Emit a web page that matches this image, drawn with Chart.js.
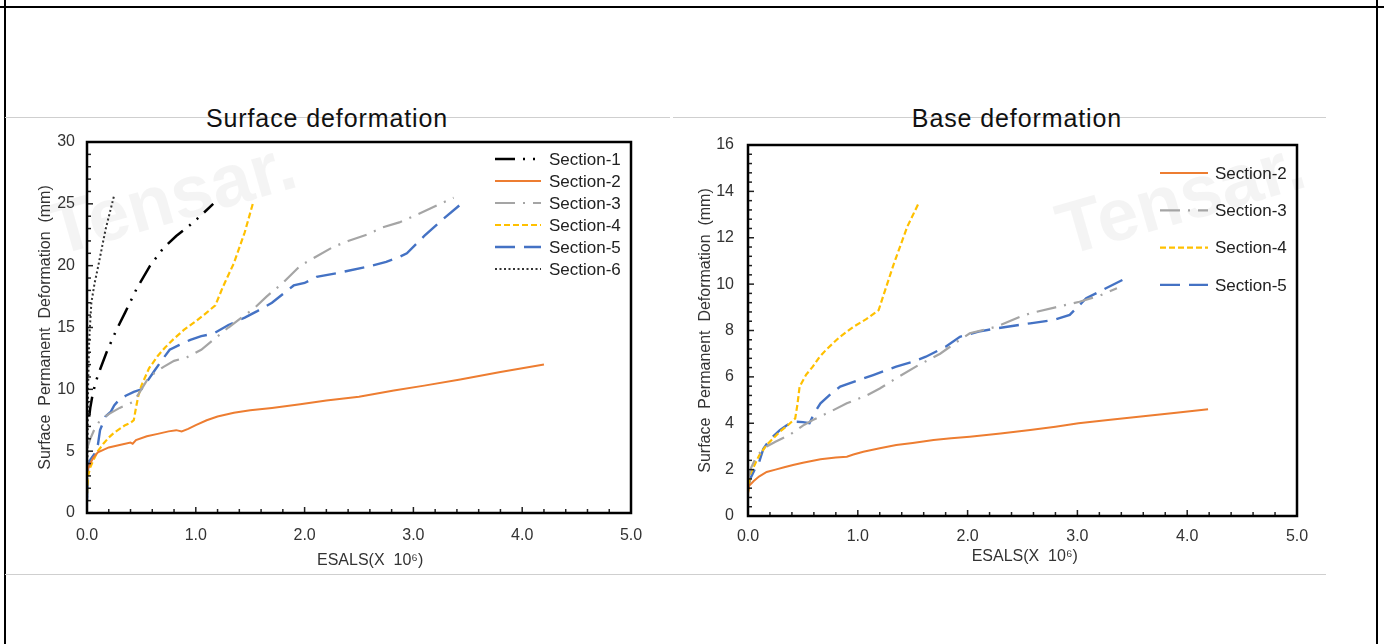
<!DOCTYPE html>
<html><head><meta charset="utf-8">
<script src="https://cdn.jsdelivr.net/npm/chart.js@4.4.1/dist/chart.umd.min.js"></script>
<style>
html,body{margin:0;padding:0;background:#fff;width:1384px;height:644px;overflow:hidden;font-family:"Liberation Sans",Arial,sans-serif;}
#frameTop{position:absolute;left:0;top:6px;width:1384px;height:2px;background:#000}
#frameL{position:absolute;left:4px;top:0;width:2px;height:644px;background:#000}
#frameR{position:absolute;left:1376px;top:0;width:2px;height:644px;background:#000}
.gline{position:absolute;height:1px;background:#cfcfcf}
.title{position:absolute;font-size:25px;line-height:28px;letter-spacing:0.9px;color:#111;white-space:nowrap;transform:translateX(-50%)}
.wm{position:absolute;font-weight:bold;font-size:74px;line-height:74px;color:rgba(0,0,0,0.045);transform:rotate(-16deg);white-space:nowrap}
.box{position:absolute}
</style></head>
<body>
<div id="frameTop"></div><div id="frameL"></div><div id="frameR"></div>
<div class="gline" style="left:5px;top:117px;width:665px"></div>
<div class="gline" style="left:673px;top:117px;width:653px"></div>
<div class="gline" style="left:5px;top:574px;width:1321px"></div>
<div class="wm" style="left:45px;top:160px">Tensar.</div>
<div class="wm" style="left:1054px;top:160px">Tensar.</div>
<div class="title" style="left:327px;top:104px">Surface deformation</div>
<div class="title" style="left:1017px;top:104px">Base deformation</div>
<div class="box" style="left:5px;top:130px;width:663px;height:445px"><canvas id="c1" width="663" height="445"></canvas></div>
<div class="box" style="left:668px;top:130px;width:654px;height:445px"><canvas id="c2" width="654" height="445"></canvas></div>
<script>
// ---------- Surface deformation data ----------
const surfS1X = [0.02, 0.03, 0.05, 0.08, 0.12, 0.18, 0.27, 0.35, 0.46, 0.58, 0.70, 0.82, 0.95, 1.04, 1.16];
const surfS1Y = [7.8, 8.5, 9.5, 10.6, 11.6, 13.0, 14.8, 16.2, 18.2, 20.0, 21.4, 22.4, 23.3, 24.0, 25.0];
const surfS2X = [0.0, 0.01, 0.03, 0.06, 0.1, 0.15, 0.2, 0.3, 0.4, 0.42, 0.45, 0.55, 0.65, 0.75, 0.82, 0.87, 0.93, 1.0, 1.1, 1.2, 1.35, 1.5, 1.7, 1.96, 2.2, 2.5, 2.82, 3.1, 3.43, 3.8, 4.2];
const surfS2Y = [3.3, 3.6, 4.0, 4.5, 4.9, 5.1, 5.3, 5.5, 5.7, 5.6, 5.9, 6.2, 6.4, 6.6, 6.7, 6.6, 6.8, 7.1, 7.5, 7.8, 8.1, 8.3, 8.5, 8.8, 9.1, 9.4, 9.9, 10.3, 10.8, 11.4, 12.0];
const surfS3X = [0.0, 0.03, 0.07, 0.12, 0.2, 0.3, 0.43, 0.5, 0.57, 0.7, 0.8, 0.92, 1.05, 1.16, 1.3, 1.45, 1.53, 1.65, 1.8, 1.96, 2.1, 2.26, 2.4, 2.57, 2.72, 2.87, 3.0, 3.15, 3.37];
const surfS3Y = [5.2, 6.0, 6.8, 7.5, 8.0, 8.5, 9.0, 10.0, 11.0, 11.8, 12.3, 12.6, 13.2, 14.0, 15.0, 16.0, 16.5, 17.5, 18.6, 20.0, 20.7, 21.5, 22.0, 22.5, 23.1, 23.5, 24.0, 24.6, 25.5];
const surfS4X = [0.0, 0.01, 0.03, 0.06, 0.1, 0.15, 0.2, 0.25, 0.3, 0.35, 0.4, 0.43, 0.45, 0.47, 0.5, 0.57, 0.65, 0.72, 0.8, 0.89, 1.0, 1.1, 1.18, 1.25, 1.35, 1.45, 1.53];
const surfS4Y = [1.5, 3.0, 3.7, 4.3, 5.0, 5.6, 6.1, 6.5, 6.8, 7.1, 7.3, 7.5, 8.5, 9.4, 10.3, 11.7, 12.7, 13.4, 14.1, 14.8, 15.5, 16.2, 16.8, 18.3, 20.2, 22.7, 25.2];
const surfS5X = [0.0, 0.01, 0.03, 0.07, 0.1, 0.12, 0.17, 0.22, 0.25, 0.3, 0.36, 0.43, 0.5, 0.55, 0.62, 0.7, 0.76, 0.85, 0.95, 1.05, 1.16, 1.3, 1.45, 1.56, 1.7, 1.9, 2.0, 2.11, 2.3, 2.57, 2.75, 2.87, 2.94, 3.1, 3.25, 3.44];
const surfS5Y = [1.0, 3.8, 4.3, 4.8, 5.5, 6.7, 7.8, 8.2, 8.7, 9.2, 9.5, 9.8, 10.0, 10.6, 11.5, 12.5, 13.2, 13.6, 14.0, 14.3, 14.5, 15.2, 15.8, 16.3, 17.0, 18.4, 18.6, 19.1, 19.4, 19.9, 20.3, 20.7, 21.0, 22.4, 23.6, 25.0];
const surfS6X = [0.0, 0.005, 0.01, 0.02, 0.04, 0.07, 0.09, 0.12, 0.17, 0.21, 0.25];
const surfS6Y = [0.5, 5.0, 10.0, 14.0, 17.0, 18.6, 19.4, 20.7, 22.9, 24.3, 25.7];

// ---------- Base deformation data ----------
const baseS2X = [0.0, 0.01, 0.05, 0.1, 0.17, 0.25, 0.33, 0.41, 0.5, 0.66, 0.8, 0.9, 0.96, 1.05, 1.2, 1.35, 1.5, 1.69, 1.85, 2.02, 2.3, 2.57, 2.8, 3.01, 3.3, 3.6, 3.9, 4.19];
const baseS2Y = [1.0, 1.3, 1.5, 1.7, 1.9, 2.0, 2.1, 2.2, 2.3, 2.45, 2.52, 2.56, 2.65, 2.77, 2.92, 3.06, 3.15, 3.28, 3.35, 3.42, 3.56, 3.71, 3.85, 4.0, 4.15, 4.3, 4.45, 4.6];
const baseS3X = [0.0, 0.03, 0.08, 0.17, 0.25, 0.38, 0.5, 0.59, 0.75, 0.9, 1.08, 1.2, 1.35, 1.55, 1.75, 1.9, 2.02, 2.26, 2.48, 2.57, 2.8, 3.02, 3.2, 3.36];
const baseS3Y = [1.6, 2.1, 2.6, 3.0, 3.2, 3.5, 3.9, 4.14, 4.5, 4.86, 5.2, 5.5, 5.94, 6.5, 7.0, 7.5, 7.88, 8.16, 8.6, 8.74, 9.0, 9.24, 9.5, 9.82];
const baseS4X = [0.0, 0.02, 0.06, 0.1, 0.17, 0.23, 0.29, 0.36, 0.43, 0.45, 0.47, 0.53, 0.59, 0.65, 0.71, 0.83, 0.96, 1.08, 1.19, 1.26, 1.33, 1.45, 1.56];
const baseS4Y = [1.0, 1.8, 2.2, 2.6, 3.06, 3.35, 3.64, 3.9, 4.21, 4.8, 5.58, 6.1, 6.44, 6.85, 7.16, 7.7, 8.16, 8.5, 8.88, 9.9, 10.9, 12.47, 13.55];
const baseS5X = [0.0, 0.02, 0.06, 0.1, 0.14, 0.2, 0.29, 0.35, 0.41, 0.5, 0.56, 0.6, 0.66, 0.75, 0.84, 1.0, 1.14, 1.35, 1.5, 1.62, 1.8, 1.93, 2.1, 2.26, 2.57, 2.78, 2.93, 3.08, 3.26, 3.44];
const baseS5Y = [1.2, 1.6, 2.0, 2.3, 2.9, 3.3, 3.7, 3.9, 4.07, 4.05, 4.0, 4.4, 4.86, 5.25, 5.58, 5.85, 6.08, 6.44, 6.65, 6.87, 7.3, 7.73, 7.95, 8.09, 8.31, 8.45, 8.67, 9.39, 9.82, 10.25];

const xTickLabels = ['0.0', '1.0', '2.0', '3.0', '4.0', '5.0'];
const seriesNames = ['Section-1', 'Section-2', 'Section-3', 'Section-4', 'Section-5', 'Section-6'];
const xTitle = 'ESALS(X  10\u2076)';
const yTitle = 'Surface  Permanent  Deformation  (mm)';

const pts = (xs, ys) => xs.map((x, i) => ({x, y: ys[i]}));

const STYLE = {
  'Section-1': {borderColor: '#000000', borderDash: [20, 8, 2, 8, 2, 8], borderWidth: 2.5},
  'Section-2': {borderColor: '#ED7D31', borderDash: [], borderWidth: 2},
  'Section-3': {borderColor: '#A5A5A5', borderDash: [20, 8, 2, 8], borderWidth: 2.2},
  'Section-4': {borderColor: '#FFC000', borderDash: [6, 3], borderWidth: 2.2},
  'Section-5': {borderColor: '#4472C4', borderDash: [20, 9], borderWidth: 2.4},
  'Section-6': {borderColor: '#333333', borderDash: [2, 2.5], borderWidth: 2}
};
const ds = (name, xs, ys) => Object.assign({label: name, data: pts(xs, ys), pointRadius: 0, tension: 0, fill: false}, STYLE[name]);

const framePlugin = {
  id: 'frameTicks',
  afterDatasetsDraw(chart, args, o) {
    const {ctx, chartArea: a, scales} = chart;
    const xs = scales.x, ys = scales.y;
    ctx.save();
    ctx.strokeStyle = '#222';
    ctx.lineWidth = 1.5;
    const nx = Math.round((xs.max - xs.min) / o.xMinor);
    for (let i = 0; i <= nx; i++) {
      const v = xs.min + i * o.xMinor;
      const major = Math.abs(v / o.xMajor - Math.round(v / o.xMajor)) < 1e-6;
      const px = xs.getPixelForValue(v);
      ctx.beginPath(); ctx.moveTo(px, a.bottom); ctx.lineTo(px, a.bottom - (major ? 6 : 4)); ctx.stroke();
    }
    const ny = Math.round((ys.max - ys.min) / o.yMinor);
    for (let i = 0; i <= ny; i++) {
      const v = ys.min + i * o.yMinor;
      const major = Math.abs(v / o.yMajor - Math.round(v / o.yMajor)) < 1e-6;
      const py = ys.getPixelForValue(v);
      ctx.beginPath(); ctx.moveTo(a.left, py); ctx.lineTo(a.left + (major ? 6 : 4), py); ctx.stroke();
    }
    ctx.strokeStyle = '#000';
    ctx.lineWidth = 2.5;
    ctx.strokeRect(a.left, a.top, a.right - a.left, a.bottom - a.top);
    ctx.restore();
  }
};

const legendPlugin = {
  id: 'inLegend',
  afterDraw(chart, args, o) {
    const {ctx} = chart;
    ctx.save();
    ctx.font = o.fontSize + 'px "Liberation Sans", Arial, sans-serif';
    ctx.textBaseline = 'middle';
    chart.data.datasets.forEach((d, i) => {
      const y = o.y + i * o.rowH;
      ctx.strokeStyle = d.borderColor;
      ctx.lineWidth = d.borderWidth;
      ctx.setLineDash(d.borderDash || []);
      ctx.beginPath(); ctx.moveTo(o.x, y); ctx.lineTo(o.x + o.sampleW, y); ctx.stroke();
      ctx.setLineDash([]);
      ctx.fillStyle = '#222';
      ctx.fillText(d.label, o.textX, y + 1);
    });
    ctx.restore();
  }
};

function makeChart(id, datasets, cfg) {
  return new Chart(document.getElementById(id), {
    type: 'line',
    data: {datasets},
    plugins: [framePlugin, legendPlugin],
    options: {
      responsive: false, animation: false, devicePixelRatio: 1,
      layout: {padding: {left: 0, top: cfg.padTop, right: cfg.padRight, bottom: 0}},
      plugins: {
        legend: {display: false}, tooltip: {enabled: false}, title: {display: false},
        frameTicks: {xMinor: 0.2, xMajor: 1, yMinor: cfg.yMinor, yMajor: cfg.yMajor},
        inLegend: cfg.legend
      },
      scales: {
        x: {
          type: 'linear', min: 0, max: 5,
          afterFit: s => { s.height = cfg.xAxisH; },
          grid: {display: false, drawTicks: true, tickLength: cfg.xTickPad},
          border: {display: false},
          ticks: {stepSize: 1, padding: 0, color: '#333', font: {size: 16, family: '"Liberation Sans", Arial'},
                  callback: (v) => xTickLabels[Math.round(v)]},
          title: {display: true, text: cfg.xTitle, color: '#333', font: {size: 16, family: '"Liberation Sans", Arial'},
                  padding: {top: 0, bottom: cfg.xTitlePad}}
        },
        y: {
          type: 'linear', min: 0, max: cfg.yMax,
          afterFit: s => { s.width = cfg.yAxisW; },
          grid: {display: false, drawTicks: true, tickLength: cfg.yTickPad},
          border: {display: false},
          ticks: {stepSize: cfg.yMajor, padding: 0, color: '#333', font: {size: 16, family: '"Liberation Sans", Arial'}},
          title: {display: true, text: yTitle, color: '#333', font: {size: 16, family: '"Liberation Sans", Arial'},
                  padding: {top: cfg.yTitlePad, bottom: 0}}
        }
      }
    }
  });
}

makeChart('c1', [
  ds(seriesNames[0], surfS1X, surfS1Y),
  ds(seriesNames[1], surfS2X, surfS2Y),
  ds(seriesNames[2], surfS3X, surfS3Y),
  ds(seriesNames[3], surfS4X, surfS4Y),
  ds(seriesNames[4], surfS5X, surfS5Y),
  ds(seriesNames[5], surfS6X, surfS6Y)
], {padTop: 12, padRight: 37, xAxisH: 62, yAxisW: 82, yMax: 30, yMajor: 5, yMinor: 1,
    xTickPad: 13, yTickPad: 12, xTitlePad: 5, yTitlePad: 31, xTitle: '     ' + xTitle,
    legend: {x: 490, textX: 544, y: 29, rowH: 22, sampleW: 46, fontSize: 17}});

makeChart('c2', [
  ds(seriesNames[1], baseS2X, baseS2Y),
  ds(seriesNames[2], baseS3X, baseS3Y),
  ds(seriesNames[3], baseS4X, baseS4Y),
  ds(seriesNames[4], baseS5X, baseS5Y)
], {padTop: 15, padRight: 25, xAxisH: 59, yAxisW: 80, yMax: 16, yMajor: 2, yMinor: 0.4,
    xTickPad: 11, yTickPad: 14, xTitlePad: 9, yTitlePad: 28, xTitle: ' ' + xTitle,
    legend: {x: 492, textX: 547, y: 43, rowH: 37.3, sampleW: 48, fontSize: 17}});
</script>
</body></html>
